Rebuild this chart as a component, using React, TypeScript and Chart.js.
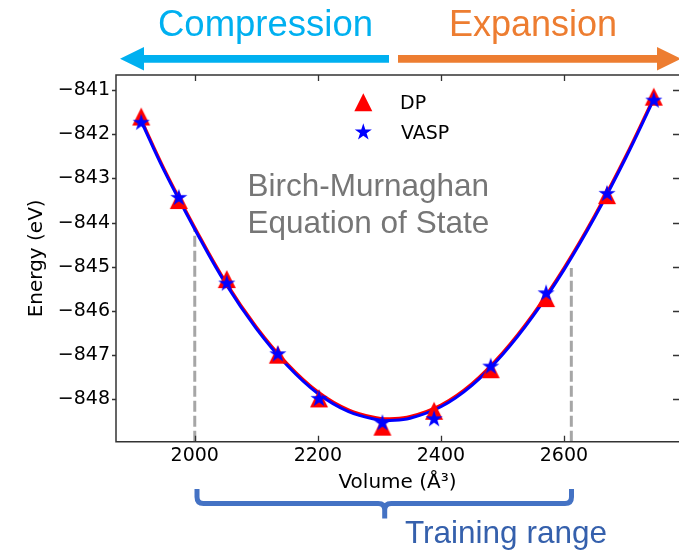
import React, { useEffect, useRef } from 'react';
import { Chart, registerables } from 'chart.js';

Chart.register(...registerables);

// ---- data ----
const volumes = [1913, 1974, 2052, 2135, 2202, 2305, 2389, 2481, 2571, 2670, 2746];
const dpEnergy = [-841.6, -843.49, -845.28, -846.99, -847.98, -848.62, -848.26, -847.32, -845.71, -843.38, -841.15];
const vaspEnergy = [-841.74, -843.44, -845.38, -846.98, -847.99, -848.54, -848.45, -847.26, -845.6, -843.35, -841.24];

// Birch-Murnaghan fitted curves (at sample volumes)
const fitVolumes = [1913, 1950, 2000, 2050, 2100, 2150, 2200, 2250, 2300, 2317, 2350, 2400, 2450, 2500, 2550, 2600, 2650, 2700, 2746];
const vaspFit = [-841.71, -842.82, -844.15, -845.38, -846.4, -847.23, -847.87, -848.28, -848.47, -848.48, -848.43, -848.17, -847.69, -846.99, -846.11, -845.07, -843.88, -842.55, -841.21];
const dpFit = [-841.67, -842.78, -844.11, -845.34, -846.36, -847.19, -847.83, -848.24, -848.43, -848.44, -848.39, -848.13, -847.65, -846.95, -846.07, -845.03, -843.84, -842.51, -841.17];

// training range markers (volume, energy where the dashed line stops)
const trainingVolumes = [2000, 2612];
const trainingTopEnergy = [-844.13, -845.03];

const xTicks = [2000, 2200, 2400, 2600];
const yTicks = [-848, -847, -846, -845, -844, -843, -842, -841];
const xRange = [1872, 2787];
const yRange = [-848.96, -840.66];

const seriesLabels = ['DP', 'VASP'];

function makeTriangle(size: number, color: string) {
  const c = document.createElement('canvas');
  c.width = size + 2;
  c.height = size + 2;
  const ctx = c.getContext('2d')!;
  ctx.fillStyle = color;
  ctx.beginPath();
  ctx.moveTo((size + 2) / 2, 1);
  ctx.lineTo(1, size + 1);
  ctx.lineTo(size + 1, size + 1);
  ctx.closePath();
  ctx.fill();
  return c;
}

function starPoints(cx: number, cy: number, R: number) {
  const pts: [number, number][] = [];
  for (let i = 0; i < 10; i++) {
    const a = -Math.PI / 2 + (i * Math.PI) / 5;
    const r = i % 2 ? R * 0.382 : R;
    pts.push([cx + r * Math.cos(a), cy + r * Math.sin(a)]);
  }
  return pts;
}

function makeStar(R: number, color: string) {
  const s = Math.ceil(2 * R) + 2;
  const c = document.createElement('canvas');
  c.width = s;
  c.height = s;
  const ctx = c.getContext('2d')!;
  ctx.fillStyle = color;
  ctx.beginPath();
  starPoints(s / 2, s / 2, R).forEach(([x, y], i) => (i ? ctx.lineTo(x, y) : ctx.moveTo(x, y)));
  ctx.closePath();
  ctx.fill();
  return c;
}

const framePlugin = {
  id: 'frame',
  afterDatasetsDraw(chart: any) {
    const { ctx, chartArea, scales } = chart;
    const { left, right, top, bottom } = chartArea;
    ctx.save();
    ctx.strokeStyle = '#333333';
    ctx.lineWidth = 1.5;
    ctx.beginPath();
    ctx.moveTo(right + 2, top);
    ctx.lineTo(left, top);
    ctx.lineTo(left, bottom);
    ctx.lineTo(right + 2, bottom);
    ctx.stroke();
    ctx.lineWidth = 1.3;
    ctx.beginPath();
    xTicks.forEach((v) => {
      const px = Math.round(scales.x.getPixelForValue(v)) + 0.5;
      ctx.moveTo(px, bottom);
      ctx.lineTo(px, bottom - 6);
      ctx.moveTo(px, top);
      ctx.lineTo(px, top + 6);
    });
    yTicks.forEach((v) => {
      const py = Math.round(scales.y.getPixelForValue(v)) + 0.5;
      ctx.moveTo(left - 4, py);
      ctx.lineTo(left, py);
      ctx.moveTo(right, py);
      ctx.lineTo(right - 6, py);
    });
    ctx.stroke();
    ctx.restore();
  },
};

export default function App() {
  const ref = useRef<HTMLCanvasElement>(null);

  useEffect(() => {
    const canvas = ref.current;
    if (!canvas) return;
    const tri = makeTriangle(18, '#ff0000');
    const star = makeStar(9, '#0000ff');
    const pts = (xs: number[], ys: number[]) => xs.map((x, i) => ({ x, y: ys[i] }));
    const tickFont = { family: 'DejaVu Sans', size: 19 };

    const chart = new Chart(canvas, {
      type: 'scatter',
      data: {
        datasets: [
          {
            label: seriesLabels[1],
            data: pts(volumes, vaspEnergy),
            pointStyle: star as any,
            pointRadius: 9,
            showLine: false,
            order: 0,
          },
          {
            label: seriesLabels[0],
            data: pts(volumes, dpEnergy),
            pointStyle: tri as any,
            pointRadius: 9,
            showLine: false,
            order: 1,
          },
          {
            label: 'VASP fit',
            type: 'line',
            data: pts(fitVolumes, vaspFit),
            borderColor: '#0000ff',
            borderWidth: 3,
            pointRadius: 0,
            tension: 0.4,
            fill: false,
            order: 2,
          } as any,
          {
            label: 'DP fit',
            type: 'line',
            data: pts(fitVolumes, dpFit),
            borderColor: '#ff0000',
            borderWidth: 3,
            pointRadius: 0,
            tension: 0.4,
            fill: false,
            order: 3,
          } as any,
          ...trainingVolumes.map((v, i) => ({
            label: 'range ' + i,
            type: 'line',
            data: [
              { x: v, y: yRange[0] },
              { x: v, y: trainingTopEnergy[i] },
            ],
            borderColor: '#a6a6a6',
            borderWidth: 3,
            borderDash: [11, 4],
            pointRadius: 0,
            fill: false,
            order: 4,
          })) as any[],
        ],
      },
      options: {
        animation: false,
        responsive: false,
        layout: { autoPadding: false, padding: { top: 75, left: 0, right: 0, bottom: 0 } },
        plugins: { legend: { display: false }, tooltip: { enabled: false } },
        scales: {
          x: {
            type: 'linear',
            min: xRange[0],
            max: xRange[1],
            afterFit: (s: any) => {
              s.height = 109.3;
            },
            afterBuildTicks: (s: any) => {
              s.ticks = xTicks.map((value) => ({ value }));
            },
            grid: { display: false, drawTicks: false },
            border: { display: false },
            ticks: {
              font: tickFont,
              color: '#000',
              padding: 3,
              maxRotation: 0,
              callback: (v: any) => String(v),
            },
            title: {
              display: true,
              text: 'Volume (Å³)',
              font: { family: 'DejaVu Sans', size: 20 },
              color: '#000',
              padding: { top: 0, bottom: 56 },
            },
          },
          y: {
            type: 'linear',
            min: yRange[0],
            max: yRange[1],
            afterFit: (s: any) => {
              s.width = 116;
            },
            afterBuildTicks: (s: any) => {
              s.ticks = yTicks.map((value) => ({ value }));
            },
            grid: { display: false, drawTicks: false },
            border: { display: false },
            ticks: {
              font: tickFont,
              color: '#000',
              padding: 6,
              callback: (v: any) => '\u2212' + Math.abs(Number(v)),
            },
            title: {
              display: true,
              text: 'Energy (eV)',
              font: { family: 'DejaVu Sans', size: 20 },
              color: '#000',
              padding: { top: 25, bottom: 0 },
            },
          },
        },
      },
      plugins: [framePlugin],
    });
    return () => chart.destroy();
  }, []);

  const starPath = starPoints(363.3, 132.3, 9)
    .map(([x, y], i) => (i ? 'L' : 'M') + x.toFixed(2) + ',' + y.toFixed(2))
    .join(' ') + ' Z';

  const textBase: React.CSSProperties = {
    position: 'absolute',
    lineHeight: 1,
    whiteSpace: 'nowrap',
    fontFamily: '"Liberation Sans", Arial, sans-serif',
  };

  return (
    <div
      style={{
        position: 'fixed',
        left: 0,
        top: 0,
        width: 679,
        height: 551,
        overflow: 'hidden',
        background: '#ffffff',
      }}
    >
      <canvas ref={ref} width={679} height={551} style={{ position: 'absolute', left: 0, top: 0, display: 'block' }} />
      <svg
        width={679}
        height={551}
        style={{ position: 'absolute', left: 0, top: 0, pointerEvents: 'none' }}
      >
        <polygon
          points="120,58.8 144,47 144,54.9 389,54.9 389,62.7 144,62.7 144,70.6"
          fill="#00b0f0"
        />
        <polygon
          points="398,54.9 657,54.9 657,47 681,58.8 657,70.6 657,62.7 398,62.7"
          fill="#ed7d31"
        />
        <path
          d="M197,489 V497 Q197,503.5 203.5,503.5 H378.2 Q384.7,503.5 384.7,510 V518.5 M384.7,510 Q384.7,503.5 391.2,503.5 H565 Q571.5,503.5 571.5,497 V489"
          fill="none"
          stroke="#4472c4"
          strokeWidth={5}
        />
        <polygon points="363.3,93.3 354.3,111.3 372.3,111.3" fill="#ff0000" />
        <path d={starPath} fill="#0000ff" />
      </svg>
      <div style={{ ...textBase, left: 158, top: 6, fontSize: 36.5, color: '#00b0f0' }}>Compression</div>
      <div style={{ ...textBase, left: 449, top: 6, fontSize: 36, color: '#ed7d31' }}>Expansion</div>
      <div style={{ ...textBase, left: 247.5, top: 170, fontSize: 31.5, color: '#767676' }}>Birch-Murnaghan</div>
      <div style={{ ...textBase, left: 247.5, top: 207.3, fontSize: 31.5, color: '#767676' }}>Equation of State</div>
      <div style={{ ...textBase, left: 405, top: 517.3, fontSize: 31.5, color: '#3560ac' }}>Training range</div>
      <div style={{ ...textBase, fontFamily: '"DejaVu Sans", sans-serif', left: 400, top: 92.8, fontSize: 19, color: '#000' }}>
        {seriesLabels[0]}
      </div>
      <div style={{ ...textBase, fontFamily: '"DejaVu Sans", sans-serif', left: 401, top: 123, fontSize: 19, color: '#000' }}>
        {seriesLabels[1]}
      </div>
    </div>
  );
}
